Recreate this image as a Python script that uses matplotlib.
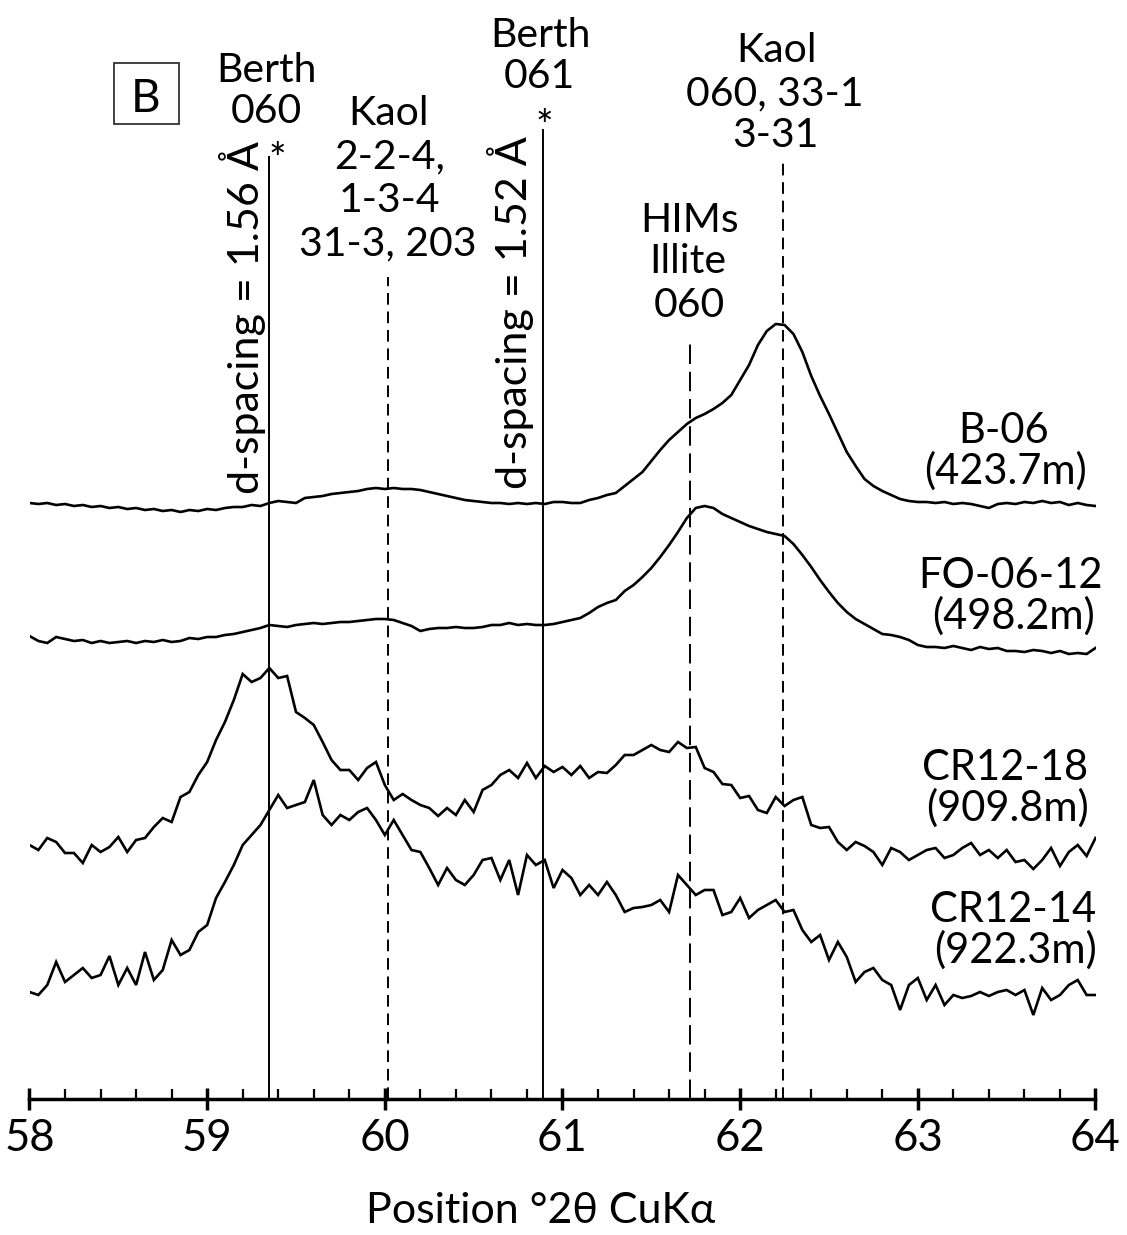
import numpy as np
import matplotlib
matplotlib.use("Agg")
import matplotlib.pyplot as plt
from matplotlib.patches import Rectangle

plt.rcParams['font.family'] = ['Lato', 'DejaVu Sans']

W, H = 1127, 1235

# position, degrees 2theta, step 0.05
two_theta = np.round(np.arange(58.0, 64.0001, 0.05), 2)

# stacked intensities (arbitrary units)
b06 = [596, 595, 596, 594, 595, 593, 594, 592, 593, 591,
       592, 590, 591, 589, 590, 588, 589, 587, 589, 588,
       590, 589, 591, 592, 592, 594, 593, 596, 598, 597,
       596, 601, 602, 603, 605, 606, 607, 608, 610, 611,
       610, 611, 610, 610, 609, 607, 605, 603, 601, 599,
       598, 597, 596, 596, 595, 596, 595, 596, 595, 597,
       597, 596, 596, 599, 601, 604, 606, 613, 620, 627,
       638, 649, 659, 667, 675, 681, 685, 690, 696, 704,
       719, 734, 754, 768, 775, 774, 765, 747, 723, 703,
       685, 666, 647, 633, 620, 613, 608, 604, 600, 598,
       597, 597, 596, 597, 595, 596, 595, 593, 591, 595,
       596, 595, 597, 596, 598, 596, 597, 594, 596, 594,
       593]

fo0612 = [463, 458, 456, 462, 460, 458, 459, 456, 458, 456,
          457, 458, 456, 458, 457, 459, 457, 458, 461, 460,
          462, 462, 464, 465, 467, 469, 471, 474, 473, 472,
          474, 475, 476, 475, 476, 477, 477, 478, 479, 480,
          480, 479, 476, 473, 468, 470, 471, 471, 472, 471,
          471, 472, 474, 474, 476, 474, 475, 474, 474, 475,
          477, 479, 481, 486, 492, 496, 499, 508, 514, 522,
          531, 542, 554, 567, 581, 591, 593, 591, 585, 581,
          577, 573, 570, 567, 565, 563, 555, 544, 532, 519,
          507, 496, 487, 480, 475, 470, 465, 464, 462, 459,
          454, 452, 452, 451, 453, 451, 449, 452, 450, 451,
          448, 448, 447, 449, 448, 446, 448, 445, 446, 445,
          451]

cr1218 = [254, 249, 261, 257, 246, 246, 236, 254, 247, 252,
          262, 247, 259, 261, 272, 281, 277, 302, 307, 324,
          337, 359, 377, 399, 425, 417, 421, 431, 421, 423,
          387, 381, 374, 357, 339, 329, 329, 319, 331, 337,
          314, 299, 305, 299, 294, 291, 283, 291, 284, 299,
          287, 309, 314, 324, 329, 321, 336, 321, 333, 327,
          332, 324, 333, 321, 327, 326, 334, 344, 344, 349,
          354, 349, 347, 357, 351, 352, 331, 327, 315, 314,
          301, 303, 289, 286, 302, 293, 299, 302, 274, 271,
          272, 257, 249, 257, 253, 247, 234, 251, 247, 239,
          244, 249, 251, 241, 244, 251, 256, 244, 249, 241,
          249, 237, 239, 230, 239, 251, 233, 247, 254, 243,
          261]

cr1214 = [107, 104, 114, 137, 117, 124, 131, 121, 124, 143,
          114, 131, 114, 147, 119, 129, 159, 144, 149, 167,
          174, 201, 217, 234, 254, 264, 274, 289, 304, 291,
          294, 297, 319, 284, 274, 284, 279, 287, 291, 279,
          264, 279, 264, 249, 247, 231, 214, 231, 219, 214,
          224, 239, 241, 219, 239, 204, 244, 234, 239, 211,
          229, 221, 204, 214, 204, 217, 204, 187, 191, 192,
          194, 199, 187, 224, 214, 204, 209, 209, 184, 187,
          201, 181, 189, 194, 199, 187, 189, 169, 157, 164,
          139, 157, 142, 117, 127, 131, 119, 114, 89, 114,
          121, 99, 114, 94, 104, 101, 103, 107, 103, 107,
          109, 104, 109, 84, 111, 99, 104, 114, 119, 104,
          104]

traces = [b06, fo0612, cr1218, cr1214]
sample_names = ['B-06', 'FO-06-12', 'CR12-18', 'CR12-14']
sample_depths = ['(423.7m)', '(498.2m)', '(909.8m)', '(922.3m)']

# reference peak positions (deg 2theta) and how high their marker lines go
ref_pos = [59.35, 60.02, 60.89, 61.72, 62.24]
ref_top = [942, 822, 969, 762, 936]
ref_style = ['solid', (0, (6, 3.5)), 'solid', (0, (10, 4)), (0, (6, 3.5))]

fig = plt.figure(figsize=(W / 100, H / 100), dpi=100)
ax = fig.add_axes([29.5 / W, (H - 1099) / H, 1066 / W, 1099 / H])


def fpx(x, y):
    # pixel position -> figure fraction
    return x / W, 1 - y / H


for tr in traces:
    ax.plot(two_theta, tr, color='black', lw=1.9, solid_joinstyle='miter')

for pos, top, ls in zip(ref_pos, ref_top, ref_style):
    ax.plot([pos, pos], [0, top], color='black', lw=1.4, linestyle=ls)

ax.set_xlim(58, 64)
ax.set_ylim(0, 1099)
for s in ['left', 'right', 'top']:
    ax.spines[s].set_visible(False)
ax.spines['bottom'].set_linewidth(2.5)
ax.set_yticks([])
ax.set_xticks(np.arange(58, 65, 1))
ax.set_xticks(np.arange(58, 64.01, 0.2), minor=True)
ax.tick_params(axis='x', which='major', direction='inout', length=16,
               width=2.5, labelsize=31.5, pad=6)
ax.tick_params(axis='x', which='minor', direction='in', length=7.5, width=1.6)
ax.patch.set_alpha(0)

fig.text(*fpx(541, 1223), 'Position °2θ CuKα', fontsize=31,
         ha='center', va='baseline')

# panel letter
fig.patches.append(Rectangle(fpx(114, 124), 65 / W, 61 / H, fill=False,
                             lw=1.3, edgecolor='#333333',
                             transform=fig.transFigure, figure=fig))
fig.text(*fpx(146, 112), 'B', fontsize=33, ha='center', va='baseline')

# peak labels
lbl = 29.5
peak_lines = [
    (266, 82, 'Berth'), (266, 123, '060'),
    (388, 125, 'Kaol'), (390, 168, '2-2-4,'), (389, 212, '1-3-4'),
    (388, 255, '31-3, 203'),
    (540, 47, 'Berth'), (539, 88, '061'),
    (777, 62, 'Kaol'), (775, 105, '060, 33-1'), (775, 147, '3-31'),
    (690, 232, 'HIMs'), (688, 273, 'Illite'), (689, 317, '060'),
]
for x, y, t in peak_lines:
    fig.text(*fpx(x, y), t, fontsize=lbl, ha='center', va='baseline')

fig.text(*fpx(277, 173), '*', fontsize=30, ha='center', va='baseline')
fig.text(*fpx(544, 140), '*', fontsize=30, ha='center', va='baseline')

fig.text(*fpx(242, 317), 'd-spacing = 1.56 Å', fontsize=31, rotation=90,
         ha='center', va='center')
fig.text(*fpx(511, 313), 'd-spacing = 1.52 Å', fontsize=31, rotation=90,
         ha='center', va='center')

# sample labels
name_base = [443, 588, 780, 922]
name_x = [1004, 1011, 1005, 1013]
for nm, dp, yb, xc in zip(sample_names, sample_depths, name_base, name_x):
    fig.text(*fpx(xc, yb), nm, fontsize=30, ha='center', va='baseline')
    fig.text(*fpx(xc + 2, yb + 41), dp, fontsize=30, ha='center',
             va='baseline')

fig.savefig('out.png', dpi=100, facecolor='white')
